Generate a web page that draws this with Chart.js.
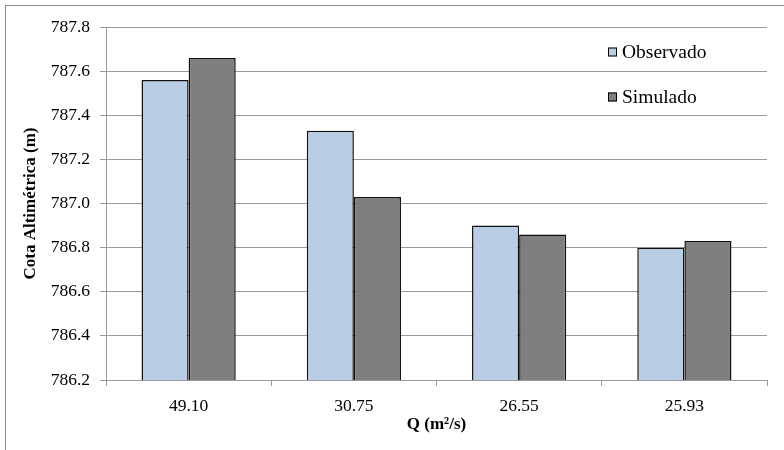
<!DOCTYPE html>
<html>
<head>
<meta charset="utf-8">
<script src="https://cdn.jsdelivr.net/npm/chart.js@4/dist/chart.umd.min.js"></script>
<style>
  html, body { margin: 0; padding: 0; background: #fff; }
  #wrap { position: relative; width: 784px; height: 450px; overflow: hidden; }
  #frame { position: absolute; left: 5px; top: 5px; width: 900px; height: 600px;
           border-left: 1px solid #8c8c8c; border-top: 1px solid #8c8c8c; }
  canvas { position: absolute; left: 0; top: 0; }
</style>
</head>
<body>
<div id="wrap">
  <div id="frame"></div>
  <canvas id="c" width="784" height="450"></canvas>
</div>
<script>
const categories = ['49.10', '30.75', '26.55', '25.93'];
const observado = [787.56, 787.33, 786.90, 786.80];
const simulado = [787.66, 787.03, 786.86, 786.83];
const seriesNames = ['Observado', 'Simulado'];
const yTitle = 'Cota Altimétrica (m)';
const xTitle = 'Q (m²/s)';

const FONT = "'Liberation Serif', 'Times New Roman', serif";
const GRID = '#9a9a9a';

const legendPlugin = {
  id: 'insideLegend',
  afterDraw(chart) {
    const ctx = chart.ctx;
    ctx.save();
    ctx.font = '19.5px ' + FONT;
    ctx.textBaseline = 'middle';
    ctx.textAlign = 'left';
    const rows = [52, 97];
    chart.data.datasets.forEach((ds, i) => {
      const y = rows[i];
      ctx.fillStyle = ds.backgroundColor;
      ctx.fillRect(608, y - 4.5, 9, 9);
      ctx.strokeStyle = '#000';
      ctx.lineWidth = 1;
      ctx.strokeRect(608.5, y - 4, 8, 8);
      ctx.fillStyle = '#000';
      ctx.fillText(ds.label, 622, y + 1);
    });
    ctx.restore();
  }
};

new Chart(document.getElementById('c'), {
  type: 'bar',
  data: {
    labels: categories,
    datasets: [
      { label: seriesNames[0], data: observado, backgroundColor: '#b9cde5', borderColor: '#111', borderWidth: 1.5 },
      { label: seriesNames[1], data: simulado, backgroundColor: '#7f7f7f', borderColor: '#111', borderWidth: 1.5 }
    ]
  },
  options: {
    responsive: false,
    animation: false,
    devicePixelRatio: 1,
    layout: { padding: { top: 27, right: 17, left: 0, bottom: 0 } },
    datasets: { bar: { categoryPercentage: 0.57, barPercentage: 1.0 } },
    plugins: { legend: { display: false }, tooltip: { enabled: false } },
    scales: {
      x: {
        afterFit(s) { s.height = 70; },
        grid: { drawOnChartArea: false, drawTicks: true, tickLength: 6, color: GRID, offset: true },
        border: { color: GRID, width: 1 },
        ticks: { color: '#000', font: { family: FONT, size: 17.5 }, padding: 10, maxRotation: 0 },
        title: { display: true, text: xTitle, color: '#000', font: { family: FONT, size: 17, weight: 'bold' }, padding: { top: 0, bottom: 15 } }
      },
      y: {
        min: 786.2, max: 787.8,
        afterFit(s) { s.width = 106; },
        grid: { color: GRID, tickLength: 6, drawTicks: true },
        border: { color: GRID, width: 1 },
        ticks: { stepSize: 0.2, color: '#000', font: { family: FONT, size: 17.5 }, padding: 10,
                 callback: v => Number(v).toFixed(1) },
        title: { display: true, text: yTitle, color: '#000', font: { family: FONT, size: 17, weight: 'bold' }, padding: { top: 20, bottom: 0 } }
      }
    }
  },
  plugins: [legendPlugin]
});
</script>
</body>
</html>
